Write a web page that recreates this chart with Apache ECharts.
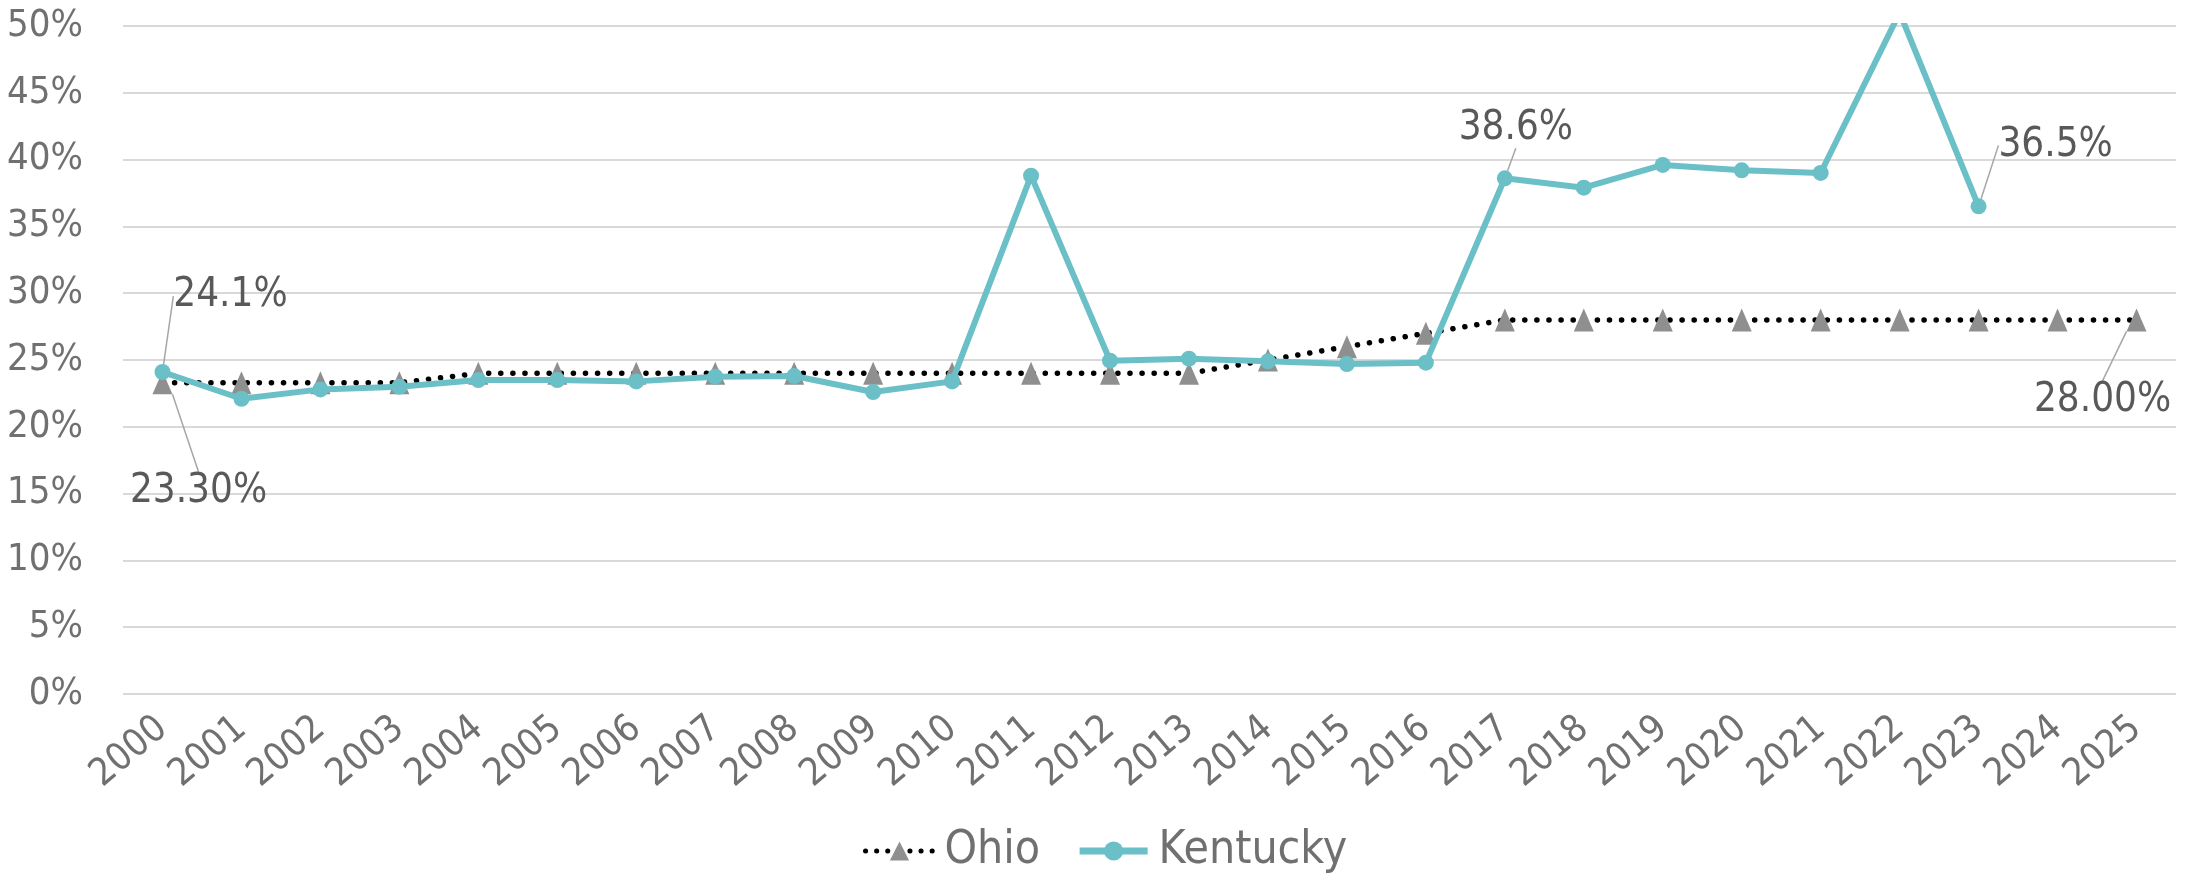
<!DOCTYPE html>
<html>
<head>
<meta charset="utf-8">
<script src="https://cdn.jsdelivr.net/npm/echarts@6/dist/echarts.min.js"></script>
<style>
html,body{margin:0;padding:0;background:#ffffff;}
#chart{width:2190px;height:875px;}
</style>
</head>
<body>
<div id="chart"></div>
<script>
// ---- data ----
const years = ['2000','2001','2002','2003','2004','2005','2006','2007','2008','2009','2010','2011','2012','2013','2014','2015','2016','2017','2018','2019','2020','2021','2022','2023','2024','2025'];
const ohio = [23.3,23.3,23.3,23.3,24.0,24.0,24.0,24.0,24.0,24.0,24.0,24.0,24.0,24.0,25.0,26.0,27.0,28.0,28.0,28.0,28.0,28.0,28.0,28.0,28.0,28.0];
const kentucky = [24.1,22.1,22.8,23.0,23.5,23.5,23.4,23.75,23.8,22.6,23.4,38.8,24.95,25.1,24.9,24.7,24.8,38.6,37.9,39.6,39.2,39.0,51.0,36.5,null,null];
const ohioLabelled = ['2000','2025'];
const kentuckyLabelled = ['2000','2017','2023'];
const yMin = 0, yMax = 50, yStep = 5;

// ---- styling / layout ----
const FONT = '"DejaVu Sans Condensed","Liberation Sans Narrow","DejaVu Sans",sans-serif';
const AXIS_COLOR = '#707070';
const LABEL_COLOR = '#595959';
const TEAL = '#6bbfc6';
const TRI = '#8f8f8f';

// label offsets (pixels from the data point to label centre)
const ohioOffsets = {'2000':[36,109],'2025':[-34,81]};
const kyOffsets = {'2000':[68,-76],'2017':[11,-50],'2023':[77,-61]};

function buildData(values, labelled){
  return values.map((v,i)=> labelled.indexOf(years[i])>=0 ? {value:v, label:{show:true}} : v);
}

const labelText = {color:LABEL_COLOR, fontFamily:FONT, fontSize:40};
const guide = {show:true, lineStyle:{color:'#a6a6a6', width:1.5}, length2:0};

const chart = echarts.init(document.getElementById('chart'), null, {renderer:'canvas'});
chart.setOption({
  animation:false,
  backgroundColor:'#ffffff',
  grid:{left:123, right:14, top:26, bottom:181},
  legend:{
    left:858, top:823,
    itemWidth:68, itemHeight:24, itemGap:36,
    textStyle:{color:AXIS_COLOR, fontFamily:FONT, fontSize:46, padding:[0,0,0,6]},
    data:[
      {name:'Ohio', lineStyle:{width:5, type:[0.1,11], cap:'round', color:'#000000'}},
      {name:'Kentucky', lineStyle:{width:7, color:TEAL}}
    ]
  },
  xAxis:{
    type:'category', data:years, boundaryGap:true,
    axisLine:{show:false}, axisTick:{show:false},
    axisLabel:{rotate:40, margin:30, color:AXIS_COLOR, fontFamily:FONT, fontSize:38, interval:0}
  },
  yAxis:{
    type:'value', min:yMin, max:yMax, interval:yStep,
    axisLine:{show:false}, axisTick:{show:false},
    splitLine:{lineStyle:{color:'#d9d9d9', width:2}},
    axisLabel:{formatter:'{value}%', margin:40, color:AXIS_COLOR, fontFamily:FONT, fontSize:38}
  },
  series:[
    {
      name:'Ohio', type:'line', data:buildData(ohio, ohioLabelled),
      symbol:'triangle', symbolSize:[20,23], showAllSymbol:true,
      itemStyle:{color:TRI},
      lineStyle:{color:'#000000', width:5.5, type:[0.1,12], cap:'round'},
      label:{show:false, position:'inside', formatter:p=>p.value.toFixed(2)+'%', ...labelText},
      labelLine:guide,
      labelLayout:function(p){const o=ohioOffsets[years[p.dataIndex]]; return o?{dx:o[0],dy:o[1]}:{};},
      z:2
    },
    {
      name:'Kentucky', type:'line', data:buildData(kentucky, kentuckyLabelled),
      symbol:'circle', symbolSize:16, showAllSymbol:true, connectNulls:false,
      itemStyle:{color:TEAL},
      lineStyle:{color:TEAL, width:6},
      label:{show:false, position:'inside', formatter:p=>p.value.toFixed(1)+'%', ...labelText},
      labelLine:guide,
      labelLayout:function(p){const o=kyOffsets[years[p.dataIndex]]; return o?{dx:o[0],dy:o[1]}:{};},
      z:3
    }
  ]
});
</script>
</body>
</html>
